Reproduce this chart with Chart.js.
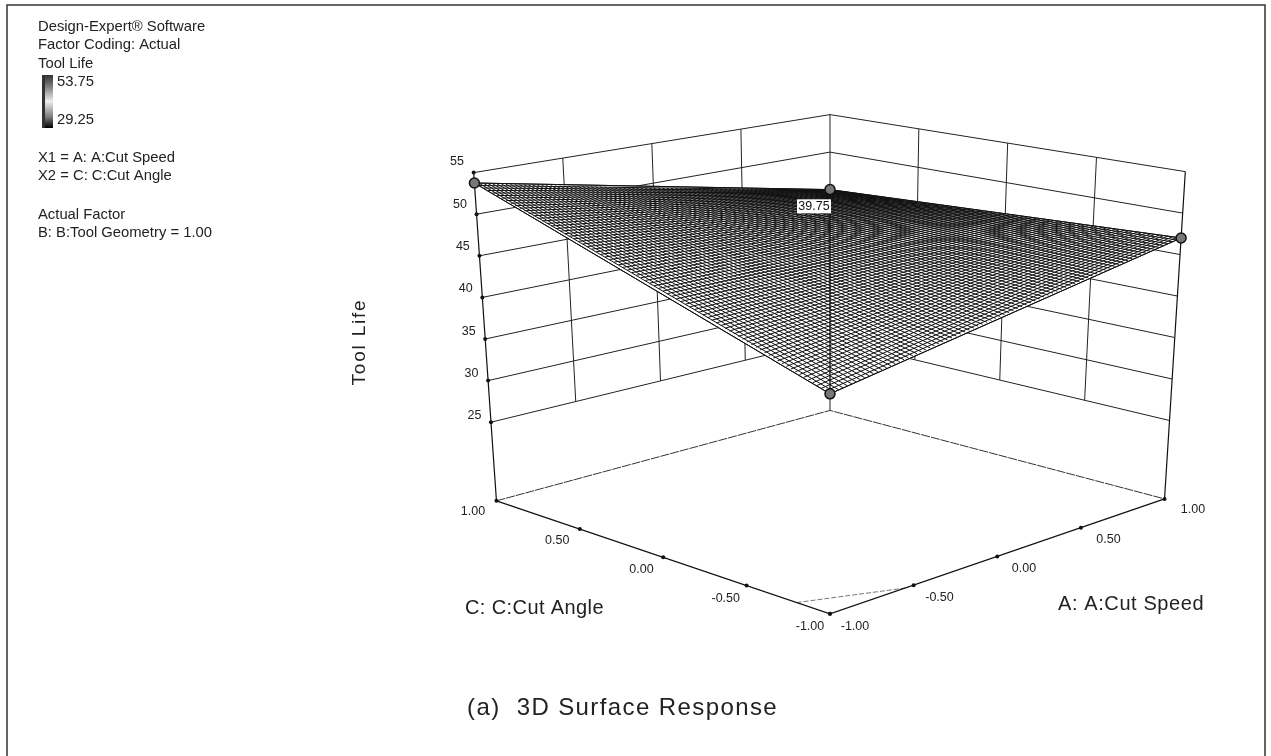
<!DOCTYPE html>
<html>
<head>
  <title>3D Surface Response</title>
  <meta charset="UTF-8">
  <script src="https://cdn.jsdelivr.net/npm/chart.js"></script>
  <style>
    body { margin: 0; background: #fff; }
    canvas { display: block; }
  </style>
</head>
<body>
  <canvas id="surfaceChart" width="1271" height="756"></canvas>

  <script>
    // Values
    const speedTicks = [-1, -0.5, 0, 0.5, 1];
    const angleTicks = [-1, -0.5, 0, 0.5, 1];
    const lifeTicks = [25, 30, 35, 40, 45, 50, 55];
    const floorLife = 15.55;
    const topLife = 55;

    // Surface corners: life at each (speed, angle) corner
    const cornerSpeed = [-1, -1, 1, 1];
    const cornerAngle = [-1, 1, 1, -1];
    const cornerLife = [39.75, 53.75, 45, 47];

    // Faint line on the floor near the front corner
    const floorTraceSpeed = [-1, -0.55];
    const floorTraceAngle = [-0.8, -1];

    const meshLines = 80;

    const legendLines = [
      ['Design-Expert® Software', 27],
      ['Factor Coding: Actual', 45],
      ['Tool Life', 64],
      ['X1 = A: A:Cut Speed', 158],
      ['X2 = C: C:Cut Angle', 176],
      ['Actual Factor', 215],
      ['B: B:Tool Geometry = 1.00', 233]
    ];

    // Where the box corners land on the page: [front, left, right, back], floor and top
    const floorBox = [[832, 618], [495, 503], [1170, 501], [832, 411]];
    const topBox = [[832, 253], [472, 169], [1191, 168], [832, 110]];

    function mix(a, b, t) { return a + (b - a) * t; }

    // speed, angle, life -> page position, trilinear through the box corners
    function project(speed, angle, life) {
      const s = (speed + 1) / 2, c = (angle + 1) / 2, t = (life - floorLife) / (topLife - floorLife);
      const at = i => [mix(floorBox[i][0], topBox[i][0], t), mix(floorBox[i][1], topBox[i][1], t)];
      const f = at(0), l = at(1), r = at(2), b = at(3);
      const w = [(1 - s) * (1 - c), (1 - s) * c, s * (1 - c), s * c];
      return {
        x: w[0] * f[0] + w[1] * l[0] + w[2] * r[0] + w[3] * b[0],
        y: w[0] * f[1] + w[1] * l[1] + w[2] * r[1] + w[3] * b[1]
      };
    }

    const gap = { x: NaN, y: NaN };

    // Wall grid: level lines and the verticals at each tick
    const wallPoints = [];
    lifeTicks.forEach(z => {
      wallPoints.push(project(-1, 1, z), project(1, 1, z), project(1, -1, z), gap);
    });
    speedTicks.slice(1, 4).forEach(v => {
      wallPoints.push(project(v, 1, lifeTicks[0]), project(v, 1, topLife), gap);
    });
    angleTicks.slice(1, 4).forEach(v => {
      wallPoints.push(project(1, v, lifeTicks[0]), project(1, v, topLife), gap);
    });
    wallPoints.push(project(1, 1, floorLife), project(1, 1, topLife), gap);

    const cornerPosts = [
      project(-1, 1, floorLife), project(-1, 1, topLife), gap,
      project(1, -1, floorLife), project(1, -1, topLife)
    ];

    const floorFront = [project(-1, 1, floorLife), project(-1, -1, floorLife), project(1, -1, floorLife)];
    const floorBack = [project(-1, 1, floorLife), project(1, 1, floorLife), project(1, -1, floorLife)];
    const floorTrace = floorTraceSpeed.map((v, i) => project(v, floorTraceAngle[i], floorLife));

    const tickDots = [];
    lifeTicks.forEach(z => tickDots.push(project(-1, 1, z)));
    speedTicks.forEach(v => tickDots.push(project(v, -1, floorLife)));
    angleTicks.forEach(v => tickDots.push(project(-1, v, floorLife)));

    // Surface life between the read corners, only used to lay the mesh over them
    function surfaceLife(speed, angle) {
      const s = (speed + 1) / 2, c = (angle + 1) / 2;
      return (1 - s) * (1 - c) * cornerLife[0] + (1 - s) * c * cornerLife[1] +
        s * c * cornerLife[2] + s * (1 - c) * cornerLife[3];
    }

    const meshPoints = [];
    for (let i = 0; i <= meshLines; i++) {
      const v = -1 + 2 * i / meshLines;
      meshPoints.push(project(v, -1, surfaceLife(v, -1)), project(v, 1, surfaceLife(v, 1)), gap);
      meshPoints.push(project(-1, v, surfaceLife(-1, v)), project(1, v, surfaceLife(1, v)), gap);
    }

    const cornerPoints = cornerSpeed.map((v, i) => project(v, cornerAngle[i], cornerLife[i]));
    const surfaceOutline = cornerPoints.concat([cornerPoints[0]]);
    const seenThrough = [cornerPoints[2], cornerPoints[0]];

    function spacedText(ctx, text, x, y, spacing) {
      ctx.letterSpacing = spacing + 'px';
      ctx.fillText(text, x, y);
      ctx.letterSpacing = '0px';
    }

    // Legend, titles and tick labels
    const textPlugin = {
      id: 'textPlugin',
      afterDatasetsDraw(chart) {
        const ctx = chart.ctx;
        ctx.save();
        ctx.fillStyle = '#222';
        ctx.textBaseline = 'middle';

        // frame: no bottom line in the scan
        ctx.strokeStyle = '#333';
        ctx.lineWidth = 1.5;
        ctx.beginPath();
        ctx.moveTo(7, 756);
        ctx.lineTo(7, 5);
        ctx.lineTo(1265, 5);
        ctx.lineTo(1265, 756);
        ctx.stroke();

        ctx.textAlign = 'left';
        ctx.font = '14.8px "Liberation Sans"';
        legendLines.forEach(l => ctx.fillText(l[0], 38, l[1]));
        ctx.fillText('53.75', 57, 82);
        ctx.fillText('29.25', 57, 120);

        const bar = ctx.createLinearGradient(0, 75, 0, 128);
        bar.addColorStop(0, '#333');
        bar.addColorStop(0.2, '#777');
        bar.addColorStop(0.5, '#eee');
        bar.addColorStop(0.8, '#777');
        bar.addColorStop(1, '#000');
        ctx.fillStyle = bar;
        ctx.fillRect(42, 75, 11, 53);
        ctx.fillStyle = '#333';
        ctx.fillRect(42, 75, 3, 53);
        ctx.fillStyle = '#222';

        ctx.textAlign = 'center';
        ctx.font = '12.5px "Liberation Sans"';
        lifeTicks.forEach(z => {
          const p = project(-1, 1, z);
          ctx.fillText(String(z), p.x - 15, p.y - 7);
        });
        angleTicks.forEach(v => {
          const p = project(-1, v, floorLife);
          ctx.fillText(v.toFixed(2), p.x - 22, p.y + 9);
        });
        speedTicks.forEach(v => {
          const p = project(v, -1, floorLife);
          ctx.fillText(v.toFixed(2), p.x + 23, p.y + 9);
        });

        ctx.font = '20px "Liberation Sans"';
        ctx.textAlign = 'left';
        spacedText(ctx, 'C: C:Cut Angle', 465, 608, 0.4);
        spacedText(ctx, 'A: A:Cut Speed', 1058, 604, 0.6);
        ctx.save();
        ctx.translate(360, 342);
        ctx.rotate(-Math.PI / 2);
        ctx.textAlign = 'center';
        ctx.font = '19px "Liberation Sans"';
        spacedText(ctx, 'Tool Life', 0, 0, 1.8);
        ctx.restore();

        ctx.font = '24px "Liberation Sans"';
        spacedText(ctx, '(a)  3D Surface Response', 467, 708, 1.4);

        // flag on the back design point
        const flag = cornerPoints[2];
        ctx.fillStyle = '#fff';
        ctx.fillRect(flag.x - 35, flag.y + 13, 34, 14);
        ctx.fillStyle = '#111';
        ctx.textAlign = 'center';
        ctx.font = '12.5px "Liberation Sans"';
        ctx.fillText(cornerLife[0].toFixed(2), flag.x - 18, flag.y + 20);
        ctx.restore();
      }
    };

    function lineSet(data, color, width, order, extra) {
      return Object.assign({
        data: data, showLine: true, borderColor: color, borderWidth: width,
        pointRadius: 0, fill: false, tension: 0, order: order
      }, extra || {});
    }

    new Chart(document.getElementById('surfaceChart').getContext('2d'), {
      type: 'scatter',
      data: {
        datasets: [
          lineSet(wallPoints, '#222', 1, 6),
          lineSet(cornerPosts, '#111', 1.2, 6),
          lineSet(floorBack, '#333', 1, 5, { borderDash: [9, 1] }),
          lineSet(floorFront, '#111', 1.2, 5),
          lineSet(floorTrace, '#777', 1, 5, { borderDash: [5, 2] }),
          lineSet(tickDots, 'transparent', 0, 4, { showLine: false, pointRadius: 2, pointBackgroundColor: '#111' }),
          lineSet(surfaceOutline, '#111', 1, 3, { fill: 'shape', backgroundColor: '#fff' }),
          lineSet(meshPoints, '#111', 1, 2),
          lineSet(seenThrough, '#111', 1.3, 2),
          lineSet(cornerPoints, 'transparent', 0, 1, {
            showLine: false, pointRadius: 5, pointBackgroundColor: '#777',
            pointBorderColor: '#111', pointBorderWidth: 1.5
          })
        ]
      },
      options: {
        responsive: false,
        animation: false,
        layout: { padding: 0 },
        plugins: { legend: { display: false }, tooltip: { enabled: false } },
        scales: {
          x: { type: 'linear', min: 0, max: 1271, display: false },
          y: { type: 'linear', min: 0, max: 756, reverse: true, display: false }
        }
      },
      plugins: [textPlugin]
    });
  </script>
</body>
</html>
